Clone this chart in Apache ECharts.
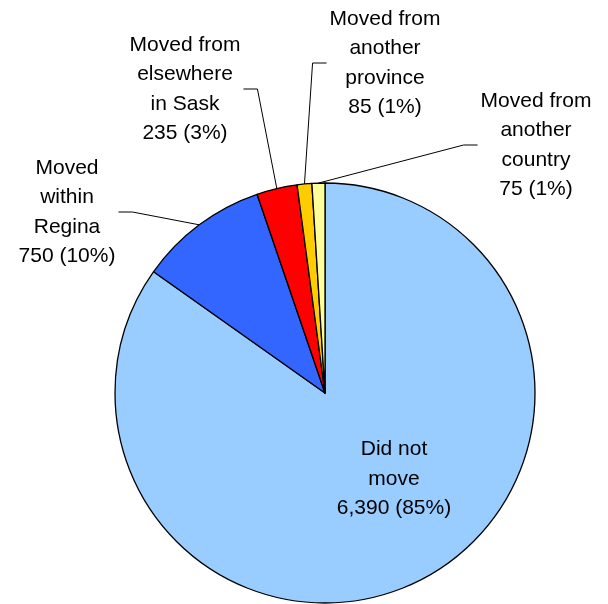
<!DOCTYPE html>
<html>
<head>
<meta charset="utf-8">
<script src="https://cdn.jsdelivr.net/npm/echarts@6/dist/echarts.min.js"></script>
<style>
  html, body { margin: 0; padding: 0; background: #fff; }
  #chart { width: 608px; height: 604px; }
</style>
</head>
<body>
<div id="chart"></div>
<script>
// households by mobility status
const categories = ['Did not move', 'Moved within Regina', 'Moved from elsewhere in Sask',
  'Moved from another province', 'Moved from another country'];
const labelNames = ['Did not\nmove', 'Moved\nwithin\nRegina', 'Moved from\nelsewhere\nin Sask',
  'Moved from\nanother\nprovince', 'Moved from\nanother\ncountry'];
const households = [6390, 750, 235, 85, 75];
const sliceColors = ['#99CCFF', '#3366FF', '#FF0000', '#FFCC00', '#FFFF99'];

const CENTER = [325, 393];
const RADIUS = 210;

// text centre of each label, and which side the leader line leaves from
const labelSpots = [
  { x: 394, y: 479 },
  { x: 67, y: 212, side: 'right' },
  { x: 185, y: 89, side: 'right' },
  { x: 385, y: 63, side: 'left' },
  { x: 536, y: 145, side: 'left' }
];

const total = households.reduce((a, b) => a + b, 0);

// point on the rim at the middle of slice i
function rimPoint(i) {
  let before = 0;
  for (let k = 0; k < i; k++) before += households[k];
  const deg = 90 - 360 * (before + households[i] / 2) / total;
  const rad = deg * Math.PI / 180;
  return [CENTER[0] + RADIUS * Math.cos(rad), CENTER[1] - RADIUS * Math.sin(rad)];
}

const chart = echarts.init(document.getElementById('chart'));
chart.setOption({
  animation: false,
  series: [{
    type: 'pie',
    center: CENTER,
    radius: RADIUS,
    startAngle: 90,
    clockwise: true,
    avoidLabelOverlap: false,
    itemStyle: { borderColor: '#000', borderWidth: 1.3 },
    emphasis: { disabled: true },
    label: {
      show: true,
      position: 'outside',
      color: '#000',
      fontFamily: '"Liberation Sans", Arial, sans-serif',
      fontSize: 21,
      lineHeight: 29.5,
      align: 'center',
      formatter: p => labelNames[p.dataIndex] + '\n' +
        p.value.toLocaleString('en-US') + ' (' + Math.round(p.percent) + '%)'
    },
    labelLine: { show: true, length: 10, length2: 10, lineStyle: { color: '#000', width: 1 } },
    labelLayout: function (p) {
      const spot = labelSpots[p.dataIndex];
      const out = { x: spot.x, y: spot.y, align: 'center', verticalAlign: 'middle' };
      if (spot.side) {
        const dir = spot.side === 'right' ? 1 : -1;
        const edgeX = spot.x + dir * (p.labelRect.width / 2 + 3);
        out.labelLinePoints = [rimPoint(p.dataIndex), [edgeX + dir * 14, spot.y], [edgeX, spot.y]];
      }
      return out;
    },
    data: categories.map((name, i) => ({
      name: name,
      value: households[i],
      itemStyle: { color: sliceColors[i] },
      labelLine: { show: i !== 0 }
    }))
  }]
});
</script>
</body>
</html>
